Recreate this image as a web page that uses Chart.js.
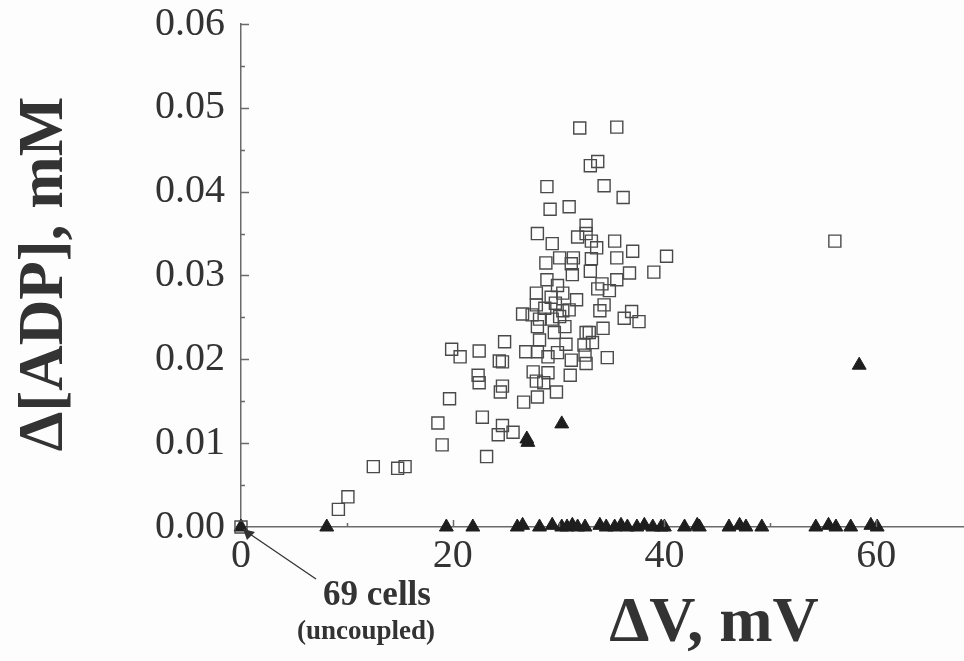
<!DOCTYPE html>
<html>
<head>
<meta charset="utf-8">
<script src="https://cdn.jsdelivr.net/npm/chart.js@4"></script>
<style>
  html, body { margin: 0; padding: 0; background: #fdfdfd; }
  #wrap { width: 964px; height: 661px; }
</style>
</head>
<body>
<div id="wrap"><canvas id="adpChart" width="964" height="661"></canvas></div>
<script>
// open squares
var squareDV = [0, 9.2, 10.1, 12.5, 14.8, 15.5, 18.6, 19.0, 19.7, 19.9, 20.7, 22.5, 22.4, 22.5, 22.8, 23.2,
  24.3, 24.7, 25.7, 24.4, 24.7, 24.7, 24.5, 24.9, 26.9, 28.0, 29.0, 29.9, 30.7, 31.2, 32.4, 32.5, 32.6,
  33.2, 34.6, 27.6, 29.0, 27.9, 28.6, 31.1, 26.7, 28.0, 29.8, 28.0, 29.4, 31.8, 32.6, 33.1, 33.6, 35.3,
  37.0, 40.2, 28.8, 30.1, 31.4, 31.2, 31.3, 33.1, 35.5, 33.0, 36.7, 39.0, 28.9, 29.9, 34.1, 35.5, 33.7,
  34.8, 27.9, 29.3, 30.4, 27.9, 28.7, 29.7, 31.7, 31.0, 30.4, 26.6, 27.5, 34.3, 33.9, 36.9, 36.2, 37.6,
  28.2, 29.4, 30.1, 34.2, 32.9, 32.6, 28.0, 29.6, 30.6, 28.2, 32.0, 35.5, 33.7, 33.0, 28.9, 34.3, 36.1,
  29.2, 31.0, 32.6, 56.1];
var squareADP = [0, 0.0021, 0.0036, 0.0072, 0.0070, 0.0072, 0.0124, 0.0098, 0.0153, 0.0212, 0.0203, 0.0210,
  0.0181, 0.0172, 0.0131, 0.0084, 0.0110, 0.0121, 0.0113, 0.0198, 0.0197, 0.0168, 0.0161, 0.0221, 0.0209,
  0.0209, 0.0203, 0.0208, 0.0218, 0.0199, 0.0217, 0.0205, 0.0195, 0.0220, 0.0202, 0.0185, 0.0184, 0.0174,
  0.0172, 0.0181, 0.0149, 0.0155, 0.0161, 0.0350, 0.0338, 0.0346, 0.0350, 0.0341, 0.0333, 0.0341, 0.0329,
  0.0323, 0.0315, 0.0321, 0.0321, 0.0314, 0.0301, 0.0320, 0.0321, 0.0305, 0.0303, 0.0304, 0.0295, 0.0288,
  0.0290, 0.0295, 0.0284, 0.0282, 0.0279, 0.0274, 0.0279, 0.0265, 0.0261, 0.0267, 0.0271, 0.0259, 0.0258,
  0.0254, 0.0253, 0.0265, 0.0258, 0.0257, 0.0249, 0.0245, 0.0248, 0.0248, 0.0251, 0.0237, 0.0232, 0.0232,
  0.0239, 0.0232, 0.0239, 0.0223, 0.0476, 0.0477, 0.0436, 0.0431, 0.0406, 0.0407, 0.0393, 0.0379, 0.0382,
  0.0360, 0.0341];

// filled triangles
var triangleDV = [0, 8.1, 19.4, 21.9, 26.1, 26.6, 28.2, 29.4, 30.3, 30.8, 31.3, 31.8, 32.5, 33.9, 34.5,
  35.3, 35.9, 36.5, 37.4, 38.1, 38.9, 39.7, 40.0, 41.9, 43.1, 43.3, 46.1, 47.1, 47.7, 49.2, 54.3, 55.5,
  56.2, 57.6, 59.5, 60.1, 27.1, 27.0, 30.3, 58.4];
var triangleADP = [0, 0, 0, 0, 0, 0.0002, 0, 0.0002, 0, 0, 0.0002, 0, 0, 0.0002, 0, 0, 0.0002, 0, 0, 0.0002,
  0, 0, 0, 0, 0.0002, 0, 0, 0.0002, 0, 0, 0, 0.0002, 0, 0, 0.0002, 0, 0.0101, 0.0105, 0.0123, 0.0193];

var xTicks = [0, 20, 40, 60];
var yTicks = [0, 0.01, 0.02, 0.03, 0.04, 0.05, 0.06];
var xTitle = 'ΔV, mV';
var yTitle = 'Δ[ADP], mM';
var noteLines = ['69 cells', '(uncoupled)'];

var pairs = function(xs, ys) {
  var out = [];
  for (var i = 0; i < xs.length; i++) out.push({x: xs[i], y: ys[i]});
  return out;
};

var axisColor = '#6a6a6a';
var textColor = '#333333';
var serif = '"Liberation Serif", "DejaVu Serif", serif';

// inner tick marks, axis titles and the arrow note
var decorations = {
  id: 'decorations',
  afterDraw: function(chart) {
    var ctx = chart.ctx;
    var xs = chart.scales.x, ys = chart.scales.y;
    var left = chart.chartArea.left, bottom = chart.chartArea.bottom;
    ctx.save();
    ctx.strokeStyle = axisColor;
    ctx.lineWidth = 1.5;
    ctx.beginPath();
    for (var v = 0.005; v <= 0.0601; v += 0.005) {
      var py = Math.round(ys.getPixelForValue(v)) + 0.5;
      var major = Math.abs(v / 0.01 - Math.round(v / 0.01)) < 0.01;
      ctx.moveTo(left, py);
      ctx.lineTo(left + (major ? 8 : 4), py);
    }
    for (var t = 10; t <= 60; t += 10) {
      var px = Math.round(xs.getPixelForValue(t)) + 0.5;
      ctx.moveTo(px, bottom);
      ctx.lineTo(px, bottom - (t % 20 === 0 ? 7 : 4));
    }
    ctx.stroke();

    // arrow to the origin
    var ox = xs.getPixelForValue(0), oy = ys.getPixelForValue(0);
    ctx.strokeStyle = '#333';
    ctx.lineWidth = 1.3;
    ctx.beginPath();
    ctx.moveTo(ox + 3, oy + 3);
    ctx.lineTo(ox + 75, oy + 52);
    ctx.stroke();
    ctx.fillStyle = '#333';
    ctx.beginPath();
    ctx.moveTo(ox + 2, oy + 2);
    ctx.lineTo(ox + 14, oy + 5);
    ctx.lineTo(ox + 6, oy + 13);
    ctx.closePath();
    ctx.fill();

    ctx.fillStyle = textColor;
    ctx.textAlign = 'center';
    ctx.textBaseline = 'middle';
    ctx.font = 'bold 35px ' + serif;
    ctx.fillText(noteLines[0], ox + 136, oy + 69);
    ctx.font = 'bold 27px ' + serif;
    ctx.fillText(noteLines[1], ox + 125, oy + 105);

    ctx.font = 'bold 64px ' + serif;
    ctx.fillText(xTitle, 714, 624);

    ctx.translate(46, 274);
    ctx.rotate(-Math.PI / 2);
    ctx.font = 'bold 63px ' + serif;
    ctx.fillText(yTitle, 0, 0);
    ctx.restore();
  }
};

new Chart(document.getElementById('adpChart').getContext('2d'), {
  type: 'scatter',
  data: {
    datasets: [{
      label: 'squares',
      data: pairs(squareDV, squareADP),
      pointStyle: 'rect',
      pointRadius: 8.5,
      pointBorderWidth: 1.4,
      pointBorderColor: '#4a4a4a',
      pointBackgroundColor: 'rgba(0,0,0,0)',
      clip: false
    }, {
      label: 'triangles',
      data: pairs(triangleDV, triangleADP),
      pointStyle: 'triangle',
      pointRadius: 8,
      pointBorderWidth: 1,
      pointBorderColor: '#1e1e1e',
      pointBackgroundColor: '#1e1e1e',
      clip: false
    }]
  },
  options: {
    responsive: false,
    animation: false,
    events: [],
    layout: { autoPadding: false, padding: { left: 0, right: 0, top: 24, bottom: 0 } },
    plugins: { legend: { display: false }, tooltip: { enabled: false } },
    scales: {
      x: {
        type: 'linear',
        min: 0,
        max: 68.3,
        grid: { display: false },
        border: { display: true, color: axisColor, width: 1.5 },
        afterBuildTicks: function(scale) {
          scale.ticks = xTicks.map(function(v) { return {value: v}; });
        },
        afterFit: function(scale) {
          scale.height = 134;
          scale.paddingLeft = 0;
          scale.paddingRight = 0;
        },
        ticks: {
          padding: -3,
          color: textColor,
          font: { family: serif, size: 40 },
          maxRotation: 0,
          callback: function(v) { return String(v); }
        }
      },
      y: {
        type: 'linear',
        min: 0,
        max: 0.06,
        grid: { display: false },
        border: { display: true, color: axisColor, width: 1.5 },
        afterBuildTicks: function(scale) {
          scale.ticks = yTicks.map(function(v) { return {value: v}; });
        },
        afterFit: function(scale) {
          scale.width = 241;
          scale.paddingTop = 0;
          scale.paddingBottom = 0;
        },
        ticks: {
          padding: 8,
          color: textColor,
          font: { family: serif, size: 40 },
          callback: function(v) { return v.toFixed(2); }
        }
      }
    }
  },
  plugins: [decorations]
});
</script>
</body>
</html>
